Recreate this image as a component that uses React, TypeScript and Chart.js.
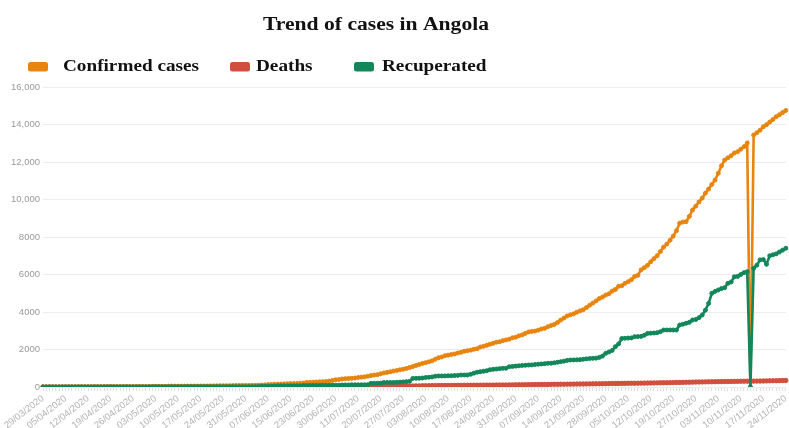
import React, { useEffect, useRef } from 'react';
import { Chart, registerables } from 'chart.js';

Chart.register(...registerables);

const TITLE = 'Trend of cases in Angola';
const SERIES_NAMES = ['Confirmed cases', 'Deaths', 'Recuperated'];
const SERIES_COLORS = ['#E8850F', '#D1503D', '#11875A'];

// Category axis: daily dates 29/03/2020 .. 24/11/2020, with days absent from the source
const MISSING_DAYS = [
  '10/06/2020', '18/06/2020', '02/07/2020', '04/07/2020', '06/07/2020',
  '08/07/2020', '13/07/2020', '16/07/2020', '22/10/2020',
];
const Y_TICKS = [0, 2000, 4000, 6000, 8000, 10000, 12000, 14000, 16000];
const LABEL_EVERY = 7;

const confirmed = [
  7, 7, 7, 8, 8, 8, 8,
  10, 14, 16, 17, 19, 19, 19,
  19, 19, 19, 19, 19, 24, 24,
  24, 24, 24, 25, 25, 25, 25,
  26, 27, 27, 27, 27, 30, 35,
  35, 35, 36, 36, 43, 45, 45,
  45, 45, 45, 48, 48, 48, 48,
  50, 52, 52, 58, 60, 61, 69,
  70, 70, 71, 74, 81, 84, 86,
  86, 86, 88, 91, 96, 106, 113,
  130, 138, 142, 148, 155, 166, 176,
  183, 186, 189, 197, 212, 244, 246,
  259, 267, 276, 284, 291, 315, 346,
  386, 396, 430, 445, 458, 462, 480,
  506, 525, 541, 576, 607, 638, 660,
  705, 749, 779, 812, 851, 880, 916,
  950, 990, 1040, 1090, 1148, 1199, 1260,
  1300, 1344, 1395, 1483, 1560, 1600, 1672,
  1700, 1735, 1762, 1815, 1852, 1906, 1935,
  1966, 2015, 2044, 2134, 2171, 2222, 2283,
  2332, 2390, 2415, 2471, 2510, 2551, 2624,
  2654, 2729, 2777, 2860, 2935, 2965, 2981,
  3033, 3092, 3130, 3217, 3279, 3335, 3440,
  3569, 3675, 3789, 3848, 3901, 3991, 4060,
  4117, 4236, 4363, 4475, 4590, 4718, 4797,
  4905, 4972, 5114, 5200, 5370, 5402, 5530,
  5620, 5725, 5900, 5958, 6246, 6366, 6488,
  6680, 6846, 7000, 7222, 7462, 7622, 7829,
  8049, 8338, 8740, 8800, 8816, 9100, 9440,
  9644, 9871, 10074, 10340, 10558, 10805, 11035,
  11400, 11800, 12102, 12223, 12335, 12480, 12550,
  12680, 12816, 13010, 0, 13440, 13560, 13700,
  13880, 13990, 14134, 14267, 14413, 14520, 14634,
  14750,
];

const deaths = [
  2, 2, 2, 2, 2, 2, 2,
  2, 2, 2, 2, 2, 2, 2,
  2, 2, 2, 2, 2, 2, 2,
  2, 2, 2, 2, 2, 2, 2,
  2, 2, 2, 2, 2, 2, 2,
  2, 2, 2, 2, 2, 2, 2,
  2, 2, 2, 2, 2, 2, 2,
  3, 3, 3, 3, 3, 3, 3,
  4, 4, 4, 4, 4, 4, 4,
  4, 4, 4, 4, 4, 4, 5,
  5, 6, 6, 6, 6, 7, 8,
  8, 8, 8, 9, 10, 10, 10,
  11, 11, 13, 13, 13, 15, 15,
  17, 19, 19, 21, 21, 21, 22,
  23, 25, 26, 26, 28, 29, 29,
  33, 34, 36, 38, 40, 41, 45,
  48, 51, 52, 54, 58, 60, 64,
  68, 70, 72, 75, 77, 78, 80,
  80, 83, 84, 86, 86, 88, 88,
  90, 92, 94, 96, 98, 100, 102,
  103, 104, 106, 107, 108, 112, 115,
  117, 120, 122, 124, 126, 128, 130,
  132, 134, 136, 138, 141, 143, 145,
  147, 149, 151, 153, 155, 158, 160,
  162, 165, 167, 170, 171, 174, 176,
  179, 182, 185, 188, 190, 192, 195,
  197, 199, 201, 203, 206, 208, 211,
  214, 218, 221, 225, 228, 230, 233,
  236, 240, 243, 247, 252, 255, 260,
  265, 268, 270, 275, 279, 281, 284,
  287, 289, 291, 294, 296, 299, 302,
  305, 307, 309, 311, 313, 316, 318,
  321, 325, 330, 333, 336, 340, 343,
  346,
];

const recovered = [
  1, 1, 1, 1, 1, 2, 2,
  2, 2, 4, 4, 4, 4, 4,
  4, 5, 5, 5, 5, 6, 6,
  6, 6, 6, 6, 6, 6, 6,
  6, 6, 6, 6, 7, 11, 11,
  11, 11, 11, 11, 11, 13, 14,
  14, 14, 14, 17, 17, 17, 17,
  17, 17, 17, 17, 17, 18, 18,
  18, 18, 18, 18, 18, 18, 18,
  18, 18, 18, 18, 24, 38, 41,
  41, 41, 54, 61, 61, 61, 61,
  64, 64, 64, 66, 77, 77, 81,
  81, 81, 81, 93, 93, 93, 97,
  97, 97, 107, 107, 107, 117, 117,
  117, 118, 118, 124, 197, 197, 200,
  205, 241, 242, 242, 242, 250, 260,
  270, 285, 301, 458, 464, 467, 480,
  505, 520, 540, 577, 587, 587, 590,
  598, 600, 609, 620, 640, 640, 642,
  680, 740, 790, 816, 840, 870, 920,
  944, 960, 980, 997, 1000, 1083, 1100,
  1115, 1130, 1150, 1160, 1173, 1180, 1200,
  1215, 1230, 1245, 1264, 1270, 1290, 1320,
  1350, 1380, 1420, 1440, 1445, 1450, 1460,
  1480, 1500, 1520, 1530, 1540, 1580, 1650,
  1797, 1870, 1950, 2150, 2300, 2590, 2600,
  2610, 2620, 2683, 2690, 2700, 2760, 2860,
  2870, 2880, 2900, 2950, 3040, 3040, 3040,
  3040, 3040, 3307, 3350, 3400, 3450, 3573,
  3600, 3700, 3840, 4100, 4460, 5000, 5100,
  5173, 5250, 5300, 5530, 5600, 5880, 5900,
  6000, 6100, 6150, 0, 6330, 6500, 6780,
  6800, 6550, 7000, 7050, 7100, 7200, 7300,
  7400,
];

function pad2(n: number): string {
  return n < 10 ? '0' + n : String(n);
}

function buildDates(): string[] {
  const out: string[] = [];
  const d = new Date(Date.UTC(2020, 2, 29));
  const end = Date.UTC(2020, 10, 24);
  while (d.getTime() <= end) {
    const s = `${pad2(d.getUTCDate())}/${pad2(d.getUTCMonth() + 1)}/${d.getUTCFullYear()}`;
    if (!MISSING_DAYS.includes(s)) out.push(s);
    d.setUTCDate(d.getUTCDate() + 1);
  }
  return out;
}

const dates = buildDates();

// header (title + legend) layout
const TITLE_X = 376;
const TITLE_Y = 29.5;
const LEGEND_BOX_X = [28, 230, 354];
const LEGEND_TEXT_X = [63, 256, 382];
const LEGEND_Y = 62;
const H_STRETCH = 1.2;

const headerPlugin = {
  id: 'headerPlugin',
  afterDraw(chart: any) {
    const ctx: CanvasRenderingContext2D = chart.ctx;
    ctx.save();
    ctx.fillStyle = '#111';
    ctx.textBaseline = 'alphabetic';
    ctx.textAlign = 'center';
    ctx.font = 'bold 18px "Liberation Serif", "Times New Roman", serif';
    ctx.translate(TITLE_X, TITLE_Y);
    ctx.scale(H_STRETCH, 1);
    ctx.fillText(TITLE, 0, 0);
    ctx.restore();

    for (let i = 0; i < SERIES_NAMES.length; i++) {
      ctx.save();
      ctx.fillStyle = SERIES_COLORS[i];
      ctx.beginPath();
      const bx = LEGEND_BOX_X[i];
      if ((ctx as any).roundRect) {
        (ctx as any).roundRect(bx, LEGEND_Y, 20, 9.5, 2.5);
      } else {
        ctx.rect(bx, LEGEND_Y, 20, 9.5);
      }
      ctx.fill();
      ctx.restore();

      ctx.save();
      ctx.fillStyle = '#111';
      ctx.textBaseline = 'alphabetic';
      ctx.textAlign = 'left';
      ctx.font = 'bold 16px "Liberation Serif", "Times New Roman", serif';
      ctx.translate(LEGEND_TEXT_X[i], 71);
      ctx.scale(H_STRETCH, 1);
      ctx.fillText(SERIES_NAMES[i], 0, 0);
      ctx.restore();
    }
  },
};

function fmtY(v: number): string {
  if (v >= 10000) return v.toLocaleString('en-US');
  return String(v);
}

export default function App() {
  const ref = useRef<HTMLCanvasElement | null>(null);

  useEffect(() => {
    if (!ref.current) return;
    const mk = (i: number, data: number[], order: number, width: number, radius: number) => ({
      label: SERIES_NAMES[i],
      data,
      borderColor: SERIES_COLORS[i],
      backgroundColor: SERIES_COLORS[i],
      pointBackgroundColor: SERIES_COLORS[i],
      pointBorderColor: SERIES_COLORS[i],
      borderWidth: width,
      pointRadius: radius,
      pointBorderWidth: 1,
      pointHoverRadius: radius,
      tension: 0,
      fill: false,
      order,
    });
    const chart = new Chart(ref.current, {
      type: 'line',
      data: {
        labels: dates,
        datasets: [
          mk(0, confirmed, 2, 2.6, 2),
          mk(1, deaths, 3, 3.6, 2.2),
          mk(2, recovered, 1, 2.6, 2),
        ],
      },
      plugins: [headerPlugin],
      options: {
        responsive: false,
        animation: false,
        devicePixelRatio: 1,
        layout: { padding: { top: 87, right: 1, left: 0, bottom: 0 } },
        plugins: {
          legend: { display: false },
          title: { display: false },
          tooltip: { enabled: false },
        },
        scales: {
          x: {
            type: 'category',
            offset: false,
            border: { display: false },
            grid: {
              drawOnChartArea: false,
              drawTicks: true,
              tickLength: 4,
              color: '#e0e0e0',
            },
            ticks: {
              autoSkip: false,
              minRotation: 38,
              maxRotation: 38,
              padding: 2,
              color: '#b3b3b3',
              font: { size: 9.5, family: '"Liberation Sans", Arial, sans-serif' },
              callback: function (this: any, value: any, index: number) {
                return index % LABEL_EVERY === 0 ? this.getLabelForValue(value) : '';
              },
            },
            afterFit: (scale: any) => {
              scale.height = 41;
              scale.paddingLeft = 0;
              scale.paddingRight = 0;
            },
          },
          y: {
            min: Y_TICKS[0],
            max: Y_TICKS[Y_TICKS.length - 1],
            border: { display: false },
            grid: { color: '#ececec', drawTicks: false, lineWidth: 1 },
            ticks: {
              stepSize: Y_TICKS[1] - Y_TICKS[0],
              padding: 3,
              color: '#9a9a9a',
              font: { size: 9.5, family: '"Liberation Sans", Arial, sans-serif' },
              callback: (v: any) => fmtY(Number(v)),
            },
            afterFit: (scale: any) => {
              scale.width = 43;
            },
          },
        },
      },
    } as any);
    return () => chart.destroy();
  }, []);

  return (
    <div style={{ position: 'fixed', left: 0, top: 0, width: 789, height: 428, background: '#fff' }}>
      <canvas ref={ref} width={789} height={428} style={{ display: 'block', width: 789, height: 428 }} />
    </div>
  );
}
